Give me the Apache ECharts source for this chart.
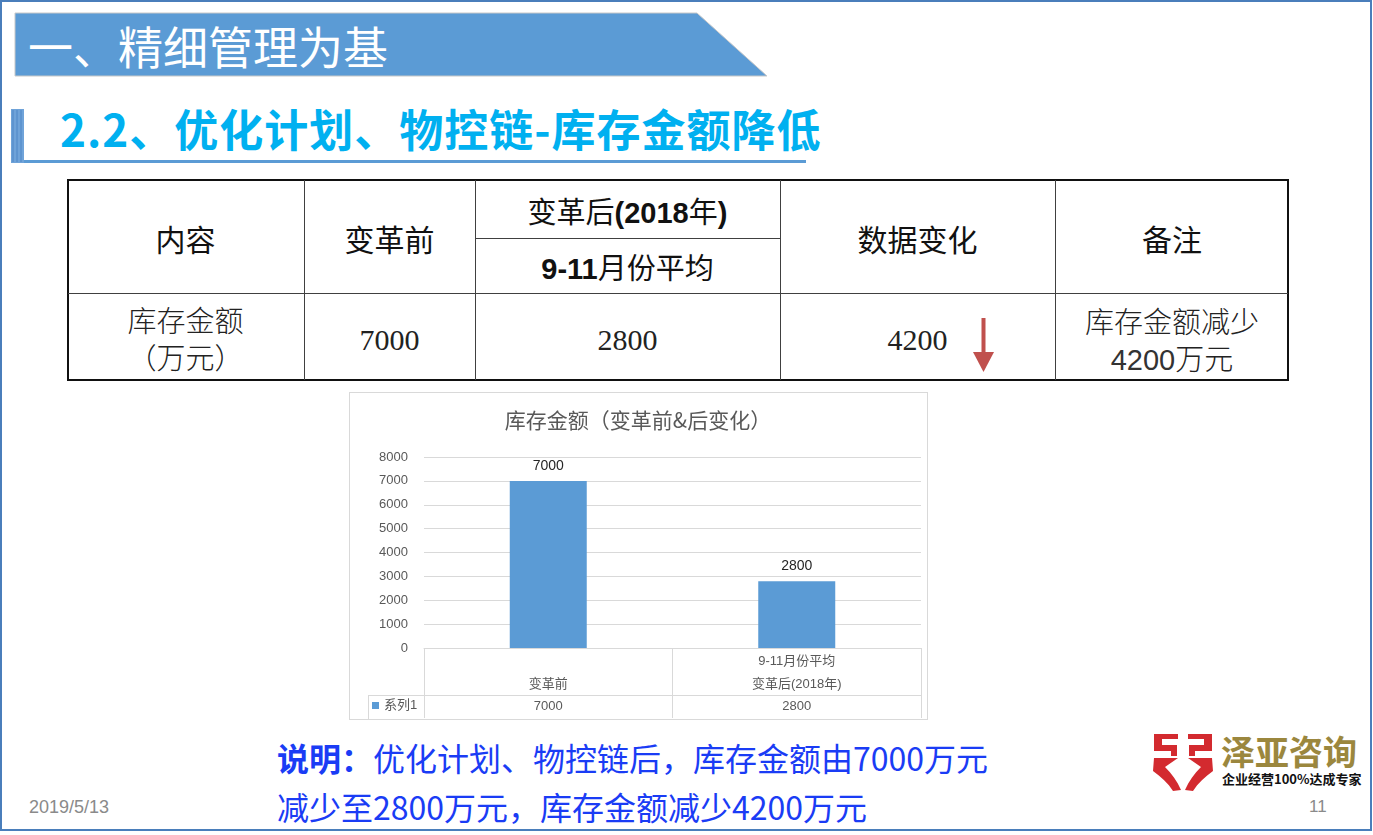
<!DOCTYPE html>
<html><head><meta charset="utf-8">
<script src="https://cdn.jsdelivr.net/npm/echarts@6/dist/echarts.min.js"></script>
<style>
html,body{margin:0;padding:0;width:1373px;height:835px;background:#fff;overflow:hidden;font-family:"Noto Sans CJK SC",sans-serif;}
.a{position:absolute;}
.c{position:absolute;text-align:center;white-space:nowrap;}
.hl{position:absolute;background:#404040;height:1px;}
.vl{position:absolute;background:#404040;width:1px;}
.serif{font-family:"Liberation Serif","Noto Sans CJK SC",serif;}
.lat{font-family:"Liberation Sans","Noto Sans CJK SC",sans-serif;}
</style>
</head><body>
<script>
// ---- chart data ----
const chartTitle = '库存金额（变革前&后变化）';
const categories = ['变革前', '9-11月份平均\n变革后(2018年)'];
const seriesName = '系列1';
const values = [7000, 2800];
const yMin = 0, yMax = 8000, yInterval = 1000;
</script>

<div class="a" style="left:0;top:0;width:1372px;height:831px;box-sizing:border-box;border:2px solid #4a7ebb;"></div>

<svg class="a" style="left:0;top:0" width="1373" height="835">
  <polygon points="15,13 697,13 767,76 15,76" fill="#5b9bd5" stroke="#c8c8c8" stroke-width="1"/>
  <rect x="11" y="109" width="13" height="54" fill="#6fa3d9"/>
  <line x1="13" y1="110" x2="13" y2="162" stroke="#4f86c6" stroke-width="1"/>
  <line x1="17" y1="110" x2="17" y2="162" stroke="#4f86c6" stroke-width="1"/>
  <line x1="21" y1="110" x2="21" y2="162" stroke="#4f86c6" stroke-width="1"/>
  <rect x="24" y="160" width="782" height="3" fill="#5b9bd5"/>
  <!-- arrow -->
  <rect x="981.5" y="318" width="4" height="40" fill="#c0504d"/>
  <polygon points="973,352 994,352 983.5,372" fill="#c0504d"/>
  <!-- logo mark -->
  <g fill="#d32a2f">
    <path d="M1154,734 H1178 V739 H1162 V745 H1177 V756 H1171 V751 H1154 Z"/>
    <path d="M1154,758 H1178 L1165,767 C1172,774 1177,781 1181,790 L1173,791 C1168,783 1161,777 1153,771 Z"/>
    <g transform="translate(2366,0) scale(-1,1)">
      <path d="M1154,734 H1178 V739 H1162 V745 H1177 V756 H1171 V751 H1154 Z"/>
      <path d="M1154,758 H1178 L1165,767 C1172,774 1177,781 1181,790 L1173,791 C1168,783 1161,777 1153,771 Z"/>
    </g>
  </g>
</svg>

<div class="a" style="left:28px;top:16px;font-size:45px;line-height:60px;color:#fff;white-space:nowrap;">一、精细管理为基</div>
<div class="a" style="left:60px;top:98px;font-size:44px;line-height:60px;color:#00b0f0;font-weight:bold;white-space:nowrap;letter-spacing:1px;">2.2、优化计划、物控链-库存金额降低</div>

<!-- table -->
<div class="a" style="left:67px;top:179px;width:1222px;height:202px;box-sizing:border-box;border:2px solid #111;"></div>
<div class="vl" style="left:304px;top:180px;height:200px;"></div>
<div class="vl" style="left:475px;top:180px;height:200px;"></div>
<div class="vl" style="left:780px;top:180px;height:200px;"></div>
<div class="vl" style="left:1055px;top:180px;height:200px;"></div>
<div class="hl" style="left:68px;top:293px;width:1220px;"></div>
<div class="hl" style="left:475px;top:238px;width:305px;"></div>

<div class="c" style="left:67px;width:237px;top:218px;font-size:30px;line-height:40px;color:#111;">内容</div>
<div class="c" style="left:304px;width:171px;top:218px;font-size:30px;line-height:40px;color:#111;">变革前</div>
<div class="c" style="left:475px;width:305px;top:190px;font-size:29px;line-height:40px;color:#111;">变革后<b class="lat">(2018</b>年<b class="lat">)</b></div>
<div class="c" style="left:475px;width:305px;top:246px;font-size:29px;line-height:40px;color:#111;"><b class="lat">9-11</b>月份平均</div>
<div class="c" style="left:780px;width:275px;top:218px;font-size:30px;line-height:40px;color:#111;">数据变化</div>
<div class="c" style="left:1055px;width:234px;top:218px;font-size:30px;line-height:40px;color:#111;">备注</div>

<div class="c" style="left:67px;width:237px;top:301px;font-size:29px;line-height:37px;color:#222;font-weight:300;">库存金额<br>（万元）</div>
<div class="c serif" style="left:304px;width:171px;top:320px;font-size:30px;line-height:40px;color:#222;">7000</div>
<div class="c serif" style="left:475px;width:305px;top:320px;font-size:30px;line-height:40px;color:#222;">2800</div>
<div class="c serif" style="left:780px;width:275px;top:320px;font-size:30px;line-height:40px;color:#222;">4200</div>
<div class="c" style="left:1055px;width:234px;top:302px;font-size:29px;line-height:37px;color:#222;font-weight:300;">库存金额减少<br><span class="lat" style="color:#333">4200</span>万元</div>

<!-- chart -->
<div class="a" style="left:349px;top:392px;width:579px;height:328px;box-sizing:border-box;border:1px solid #d9d9d9;"></div>
<div id="chart" class="a" style="left:349px;top:392px;width:578px;height:327px;"></div>

<!-- bottom text -->
<div class="a" style="left:277px;top:737px;font-size:32px;line-height:40px;color:#1a3cf5;white-space:nowrap;"><b>说明：</b>优化计划、物控链后，库存金额由7000万元</div>
<div class="a" style="left:277px;top:786px;font-size:32px;line-height:40px;color:#1a3cf5;white-space:nowrap;">减少至2800万元，库存金额减少4200万元</div>

<div class="a lat" style="left:29px;top:797px;font-size:18px;line-height:20px;color:#8a8a8a;">2019/5/13</div>
<div class="a lat" style="left:1309px;top:797px;font-size:17px;line-height:20px;color:#8a8a8a;">11</div>

<div class="a" style="left:1221px;top:733px;font-size:34px;line-height:36px;color:#9b873e;font-weight:bold;white-space:nowrap;">泽亚咨询</div>
<div class="a" style="left:1222px;top:771px;font-size:13px;line-height:16px;color:#111;font-weight:bold;white-space:nowrap;">企业经营100%达成专家</div>

<script>
const FONT = '"Liberation Sans","Noto Sans CJK SC",sans-serif';
const chart = echarts.init(document.getElementById('chart'), null, {renderer:'canvas'});
const option = {
  animation: false,
  title: {
    text: chartTitle, left: 'center', top: 13,
    textStyle: {fontSize: 21, fontWeight: 'normal', color: '#595959', fontFamily: '"Noto Sans CJK SC",sans-serif'}
  },
  legend: {
    data: [seriesName], left: 23, top: 307, padding: 0, icon: 'rect',
    itemWidth: 7, itemHeight: 7, itemGap: 5, selectedMode: false,
    textStyle: {fontSize: 13, color: '#595959', fontFamily: FONT}
  },
  grid: {left: 75, right: 6, top: 65, bottom: 71},
  xAxis: [{
    type: 'category', data: categories,
    axisLine: {show: true, lineStyle: {color: '#d9d9d9', width: 1}},
    axisTick: {show: true, length: 70, lineStyle: {color: '#d9d9d9'}},
    axisLabel: {
      fontSize: 13, color: '#595959', lineHeight: 23, margin: 2, fontFamily: FONT,
      formatter: v => v.indexOf('\n') < 0 ? '\n' + v : v
    }
  }, {
    type: 'category', data: values.map(String), position: 'bottom', offset: 47,
    axisLine: {show: true, lineStyle: {color: '#d9d9d9', width: 1}},
    axisTick: {show: false},
    axisLabel: {fontSize: 13, color: '#595959', lineHeight: 16, margin: 3, fontFamily: FONT}
  }],
  yAxis: {
    type: 'value', min: yMin, max: yMax, interval: yInterval,
    axisLine: {show: false}, axisTick: {show: false},
    axisLabel: {fontSize: 13, color: '#595959', margin: 16, fontFamily: FONT, formatter: v => String(v)},
    splitLine: {lineStyle: {color: '#d9d9d9', width: 1}}
  },
  series: [{
    name: seriesName, type: 'bar', data: values, xAxisIndex: 0, barWidth: 77,
    itemStyle: {color: '#5b9bd5'},
    label: {show: true, position: 'top', distance: 8, fontSize: 14, color: '#262626', fontFamily: FONT}
  }],
  graphic: [
    {type: 'line', shape: {x1: 19, y1: 303.5, x2: 75, y2: 303.5}, style: {stroke: '#d9d9d9', lineWidth: 1}, silent: true},
    {type: 'line', shape: {x1: 19.5, y1: 303, x2: 19.5, y2: 327}, style: {stroke: '#d9d9d9', lineWidth: 1}, silent: true}
  ]
};
chart.setOption(option);
</script>
</body></html>
